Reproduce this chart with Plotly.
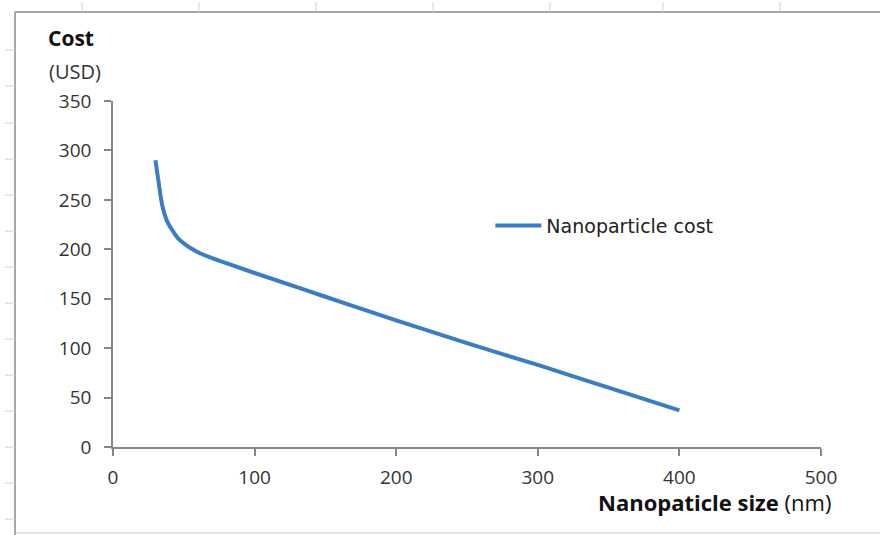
import plotly.graph_objects as go

# Nanoparticle cost vs. particle size
size_nm = [30, 32, 35, 38, 42, 46, 50, 55, 60, 70, 80, 100, 150, 200, 250, 300, 350, 400]
cost_usd = [290, 270, 243, 229, 219, 211, 206, 201, 197, 191, 186, 176, 152, 128, 105, 83, 60, 37]

x_ticks = [0, 100, 200, 300, 400, 500]
y_ticks = [0, 50, 100, 150, 200, 250, 300, 350]

W, H = 880, 535
font_family = "Open Sans, Liberation Sans, sans-serif"
text_color = "#333333"
axis_color = "#868686"

fig = go.Figure()
fig.add_trace(go.Scatter(
    x=size_nm, y=cost_usd, mode="lines", name="Nanoparticle cost",
    line=dict(color="#3B7DC0", width=4, shape="spline", smoothing=1.0),
    showlegend=True,
))

left, right, top, bottom = 113, 880 - 821, 101, 535 - 447

fig.update_layout(
    width=W, height=H,
    margin=dict(l=left, r=right, t=top, b=bottom),
    paper_bgcolor="white", plot_bgcolor="white",
    font=dict(family=font_family, size=19, color=text_color),
    legend=dict(x=0.533, y=0.64, xanchor="left", yanchor="middle",
                bgcolor="rgba(0,0,0,0)",
                font=dict(family="DejaVu Sans", size=19, color="#222"),
                itemwidth=46),
    xaxis=dict(range=[0, 500], tickvals=x_ticks, showgrid=False, zeroline=False,
               showline=True, linecolor=axis_color, linewidth=1.5,
               ticks="outside", ticklen=7, tickcolor=axis_color, tickwidth=1.5,
               ticklabelstandoff=5),
    yaxis=dict(range=[0, 350], tickvals=y_ticks, showgrid=False, zeroline=False,
               showline=True, linecolor=axis_color, linewidth=1.5,
               ticks="outside", ticklen=7, tickcolor=axis_color, tickwidth=1.5,
               ticklabelstandoff=9),
)

# Axis titles
fig.add_annotation(text="<b>Cost</b>", xref="paper", yref="paper",
                   x=(96 - left) / 708, y=1.0 + (101 - 38) / 346, xanchor="right", yanchor="middle",
                   showarrow=False, font=dict(size=21, color="#111"))
fig.add_annotation(text="(USD)", xref="paper", yref="paper",
                   x=(103 - left) / 708, y=1.0 + (101 - 71) / 346, xanchor="right", yanchor="middle",
                   showarrow=False, font=dict(size=20, color=text_color))
fig.add_annotation(text="<b>Nanopaticle size</b> (nm)", xref="paper", yref="paper",
                   x=(833 - left) / 708, y=-(502 - 447) / 346, xanchor="right", yanchor="middle",
                   showarrow=False, font=dict(size=22, color="#111"))

# Outer sheet frame
frame = "#A6A6A6"
shapes = [
    dict(type="line", xref="paper", yref="paper",
         x0=(15 - left) / 708, x1=(880 - left) / 708,
         y0=(447 - 12) / 346, y1=(447 - 12) / 346,
         line=dict(color=frame, width=2)),
    dict(type="line", xref="paper", yref="paper",
         x0=(15 - left) / 708, x1=(15 - left) / 708,
         y0=(447 - 12) / 346, y1=(447 - 535) / 346,
         line=dict(color=frame, width=2)),
    dict(type="line", xref="paper", yref="paper",
         x0=(15 - left) / 708, x1=(880 - left) / 708,
         y0=(447 - 533) / 346, y1=(447 - 533) / 346,
         line=dict(color="#C8C8C8", width=1)),
]
for px in [82, 199, 316, 433, 550, 663, 780]:
    shapes.append(dict(type="line", xref="paper", yref="paper",
                       x0=(px - left) / 708, x1=(px - left) / 708,
                       y0=(447 - 2) / 346, y1=(447 - 12) / 346,
                       line=dict(color="#D0D0D0", width=1)))
for py in [50, 86, 123, 159, 195, 231, 267, 303, 339, 375, 411, 447, 483, 519]:
    shapes.append(dict(type="line", xref="paper", yref="paper",
                       x0=(5 - left) / 708, x1=(15 - left) / 708,
                       y0=(447 - py) / 346, y1=(447 - py) / 346,
                       line=dict(color="#D0D0D0", width=1)))
fig.update_layout(shapes=shapes)

fig.write_html("out.html")
